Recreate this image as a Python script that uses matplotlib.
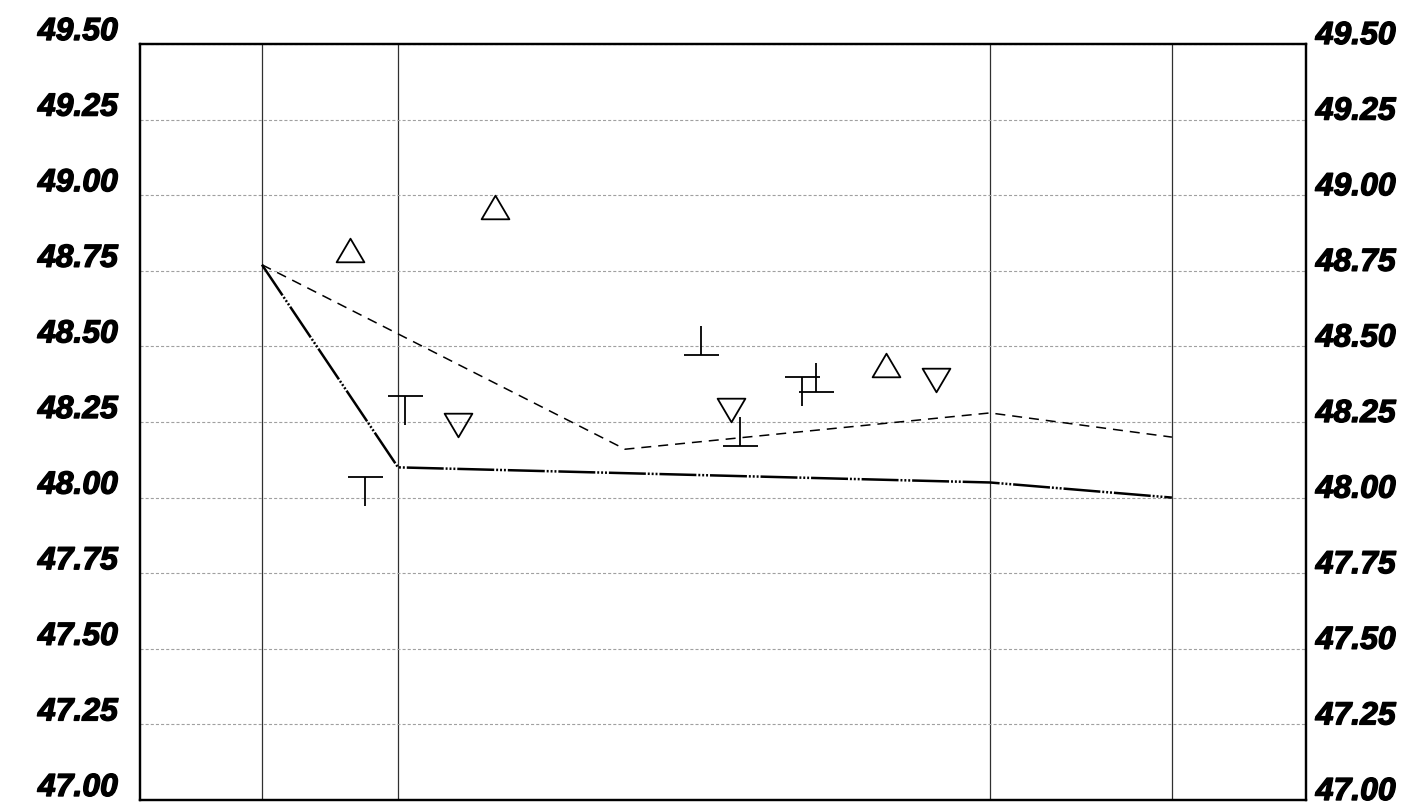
import matplotlib
matplotlib.use("Agg")
import matplotlib.pyplot as plt
from matplotlib.path import Path
from matplotlib.transforms import ScaledTranslation
import matplotlib.patheffects as pe

plt.rcParams['lines.scale_dashes'] = False

# ---- data ----
y_ticks = [47.00, 47.25, 47.50, 47.75, 48.00, 48.25, 48.50, 48.75, 49.00, 49.25, 49.50]
y_tick_labels = [f"{v:.2f}" for v in y_ticks]
x_grid = [10.46, 22.13, 72.9, 88.5]

solid_x = [10.46, 22.13, 72.9, 88.5]
solid_y = [48.77, 48.10, 48.05, 48.00]

dashed_x = [10.46, 41.6, 72.9, 88.5]
dashed_y = [48.77, 48.16, 48.28, 48.20]

tri_up_x = [18.0, 30.45, 64.0]
tri_up_y = [48.82, 48.96, 48.44]

tri_down_x = [27.3, 50.7, 68.3]
tri_down_y = [48.24, 48.29, 48.39]

tee_down_x = [22.7, 19.3, 56.8]
tee_down_y = [48.336, 48.068, 48.399]

tee_up_x = [48.1, 51.5, 58.0]
tee_up_y = [48.472, 48.171, 48.349]

# ---- figure ----
fig = plt.figure(figsize=(14.02, 8.02), dpi=100)
ax = fig.add_axes([140/1402, 1 - 800/802, (1306-140)/1402, (800-44)/802])
ax.set_xlim(0, 100)
ax.set_ylim(47.0, 49.5)

ax2 = ax.twinx()
ax2.set_ylim(47.0, 49.5)

# grids
ax.set_xticks(x_grid)
ax.set_yticks(y_ticks)
ax.grid(axis='x', color='#303030', linewidth=0.9, linestyle='-')
ax.grid(axis='y', color='#a0a0a0', linewidth=0.8, linestyle=(0, (2.2, 1.5)))
ax.set_axisbelow(True)
ax.tick_params(axis='x', length=0, labelbottom=False)

lab_font = dict(family='Liberation Sans', weight='bold', style='italic', size=23)
stroke = [pe.withStroke(linewidth=1.0, foreground='black')]

ax.set_yticklabels(y_tick_labels, **lab_font)
ax.tick_params(axis='y', length=0, pad=16)
for tk in ax.yaxis.get_major_ticks():
    lbl = tk.label1
    lbl.set_va('baseline')
    lbl.set_path_effects(stroke)
    lbl.set_transform(lbl.get_transform() + ScaledTranslation(0, 4/100, fig.dpi_scale_trans))

ax2.set_yticks(y_ticks)
ax2.set_yticklabels(y_tick_labels, **lab_font)
ax2.tick_params(axis='y', length=0, pad=7)
for t in ax2.get_yticklabels():
    t.set_va('baseline')
    t.set_path_effects(stroke)

for a in (ax, ax2):
    for s in a.spines.values():
        s.set_linewidth(1.6)
        s.set_color('black')

# lines
ln1, = ax.plot(solid_x, solid_y, color='black', linewidth=1.8)
ln1.set_dashes([26.6, 1.4, 1.4, 1.4, 1.4, 1.4, 1.4, 1.4])
ln2, = ax.plot(dashed_x, dashed_y, color='black', linewidth=1.1)
ln2.set_dashes([7.2, 5])

# markers
tri_up = Path([(0, 0.85), (-1, -0.85), (1, -0.85), (0, 0.85)],
              [Path.MOVETO, Path.LINETO, Path.LINETO, Path.CLOSEPOLY])
tri_dn = Path([(0, -0.85), (-1, 0.85), (1, 0.85), (0, -0.85)],
              [Path.MOVETO, Path.LINETO, Path.LINETO, Path.CLOSEPOLY])
tee_dn = Path([(-0.6, 0), (0.6, 0), (0, 0), (0, -1)],
              [Path.MOVETO, Path.LINETO, Path.MOVETO, Path.LINETO])
tee_up = Path([(-0.6, 0), (0.6, 0), (0, 0), (0, 1)],
              [Path.MOVETO, Path.LINETO, Path.MOVETO, Path.LINETO])

ax.plot(tri_up_x, tri_up_y, linestyle='none', marker=tri_up, markersize=20,
        markerfacecolor='none', markeredgecolor='black', markeredgewidth=1.3)
ax.plot(tri_down_x, tri_down_y, linestyle='none', marker=tri_dn, markersize=20,
        markerfacecolor='none', markeredgecolor='black', markeredgewidth=1.3)
ax.plot(tee_down_x, tee_down_y, linestyle='none', marker=tee_dn, markersize=42,
        markerfacecolor='none', markeredgecolor='black', markeredgewidth=1.3)
ax.plot(tee_up_x, tee_up_y, linestyle='none', marker=tee_up, markersize=42,
        markerfacecolor='none', markeredgecolor='black', markeredgewidth=1.3)

fig.savefig("out.png", dpi=100)
